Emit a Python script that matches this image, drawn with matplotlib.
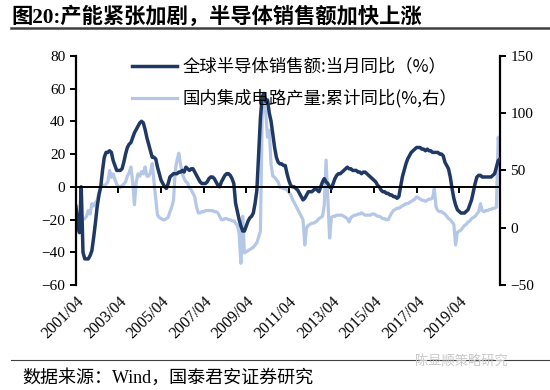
import numpy as np
import matplotlib
matplotlib.use('Agg')
import matplotlib.pyplot as plt

plt.rcParams['font.family'] = ['Liberation Serif', 'Noto Sans CJK SC', 'DejaVu Sans']

# monthly, 2001/04 .. 2021/03
global_sales = [
    -12, -22, -28, 0, -40, -44, -44, -44, -42, -39,
    -31, -22, -12, -5, 0, 10, 18, 21, 21, 22,
    21, 16, 13, 10, 10, 10, 11, 15, 20, 24,
    26, 27, 30, 33, 35, 37, 39, 40, 39, 35,
    30, 26, 22, 18, 18, 17, 12, 8, 4, 2,
    0, -1, 2, 6, 7, 8, 8, 8, 9, 9,
    10, 9, 12, 11, 10, 11, 11, 9, 7, 5,
    3, 2, 2, 2, 3, 5, 6, 6, 5, 3,
    1, 0, 3, 5, 7, 8, 8, 7, 5, 2,
    -10, -15, -20, -24, -27, -27, -24, -21, -19, -18,
    -16, -10, -2, 20, 42, 55, 57, 52, 53, 45,
    40, 32, 24, 18, 15, 14, 14, 13, 13, 8,
    4, 1, 0, 0, -1, -2, -4, -6, -8, -7,
    -5, -3, -3, -3, -2, -1, -2, -3, 0, 3,
    5, 3, 2, 0, -1, 2, 5, 7, 8, 8,
    9, 10, 11, 12, 11, 11, 10, 10, 10, 9,
    9, 8, 9, 9, 8, 7, 6, 5, 4, 3,
    1, 0, -2, -3, -3, -4, -4, -5, -5, -6,
    -6, -7, -6, 0, 6, 10, 14, 17, 19, 21,
    22, 23, 24, 24, 24, 23, 23, 22, 23, 22,
    22, 21, 21, 21, 21, 20, 20, 19, 15, 13,
    11, 6, -1, -7, -11, -14, -15, -16, -16, -16,
    -15, -14, -11, -8, -3, 2, 6, 7, 7, 6,
    6, 6, 6, 6, 6, 7, 8, 12, 16, 17,
]

china_ic = [
    10, 7, 5, 6, 7, 8, 10, 15, 12, 21,
    19, 22, 24, 31, 35, 37, 37, 38, 40, 50,
    44, 47, 42, 38, 36, 35, 37, 38, 40, 45,
    48, 53, 40, 20, 40, 47, 45, 49, 47, 53,
    45, 45, 48, 56, 40, 25, 11, 9, 8, 7,
    7, 8, 9, 14, 18, 24, 50, 59, 65, 55,
    47, 43, 40, 39, 35, 33, 30, 27, 18, 13,
    13, 14, 14, 15, 15, 15, 15, 15, 14, 14,
    13, 10, 7, 7, 8, 8, 7, 7, 6, 6,
    4, 2, -5, -31, 10, -22, -21, -20, -19, -18,
    -17, -15, -13, -8, -3, 100, 111, 100, 79, 85,
    55, 45, 44, 42, 40, 35, 35, 34, 34, 33,
    31, 29, 25, 22, 19, 16, 13, 10, 7, -15,
    0, 2, 3, 4, 4, 5, 6, 8, 9, 10,
    20, 59, 25, -9, 9, 10, 10, 11, 11, 11,
    11, 10, 9, 8, 5, 9, 10, 11, 11, 12,
    12, 13, 12, 11, 11, 11, 11, 12, 12, 11,
    10, 10, 9, 8, 8, 7, 7, 10, 13, 15,
    16, 17, 17, 18, 19, 20, 21, 21, 22, 23,
    24, 25, 27, 26, 25, 24, 24, 23, 24, 25,
    25, 26, 34, 18, 15, 14, 14, 13, 12, 10,
    8, 7, 5, 3, -15, -4, -3, -2, 0, 2,
    3, 5, 6, 8, 9, 10, 12, 14, 21, 15,
    14, 15, 15, 16, 16, 17, 17, 18, 79, 62,
]

tick_labels = ['2001/04', '2003/04', '2005/04', '2007/04', '2009/04',
               '2011/04', '2013/04', '2015/04', '2017/04', '2019/04']

dark = '#1f3864'
light = '#b4c7e7'

months = np.arange(len(global_sales))

fig = plt.figure(figsize=(5.5, 3.9), dpi=100)
ax = fig.add_axes([0.138, 0.269, 0.771, 0.588])
ax2 = ax.twinx()

l2, = ax2.plot(months, china_ic, color=light, lw=2.3, label='国内集成电路产量:累计同比(%,右）')
l1, = ax.plot(months, global_sales, color=dark, lw=2.5, label='全球半导体销售额:当月同比（%）')
ax.set_zorder(ax2.get_zorder() + 1)
ax.patch.set_visible(False)

ax.set_xlim(0, len(global_sales) - 1)
ax.set_ylim(-60, 80)
ax.set_yticks(range(-60, 81, 20))
ax2.set_ylim(-50, 150)
ax2.set_yticks(range(-50, 151, 50))

for a in (ax, ax2):
    a.spines['top'].set_visible(False)
ax.spines['right'].set_visible(False)
ax2.spines['bottom'].set_visible(False)
ax2.spines['left'].set_visible(False)
ax.spines['left'].set_linewidth(1.6)
ax2.spines['right'].set_linewidth(1.6)
ax.spines['bottom'].set_position(('data', 0))
ax.spines['bottom'].set_linewidth(1.4)

xt = np.arange(0, len(global_sales), 24)
ax.set_xticks(xt)
ax.tick_params(axis='x', direction='out', length=4, width=1.4, labelbottom=False)
ax.tick_params(axis='y', direction='out', length=4, width=1.4, labelsize=11)
ax2.tick_params(axis='y', direction='out', length=4, width=1.4, labelsize=11)

sec = ax.secondary_xaxis(0)
sec.spines['bottom'].set_visible(False)
sec.set_xticks(xt)
sec.set_xticklabels(tick_labels, rotation=45, ha='right', rotation_mode='anchor', fontsize=11.5)
sec.tick_params(length=0, pad=6)

leg = ax.legend(handles=[l1, l2], loc='upper left', bbox_to_anchor=(0.095, 1.06),
                frameon=False, handlelength=2.6, handletextpad=0.3,
                labelspacing=0.78, prop={'family': ['Noto Sans CJK SC'], 'size': 12.5})

fig.text(0.02, 0.955, '图20:产能紧张加剧，半导体销售额加快上涨', fontsize=15.3, fontweight='bold',
         va='center', ha='left')
fig.add_artist(plt.Line2D([0.02, 1.0], [0.927, 0.927], color='#404040', lw=1.8))
fig.add_artist(plt.Line2D([0.02, 1.0], [0.077, 0.077], color='#404040', lw=0.8))
fig.text(0.04, 0.03, '数据来源：Wind，国泰君安证券研究', fontsize=13, va='center', ha='left',
         family=['Liberation Serif', 'Noto Sans CJK SC'])
fig.text(0.755, 0.072, '陈显顺策略研究', fontsize=9.5, va='center', ha='left', color='#c8c8c8',
         family=['Noto Sans CJK SC'])

fig.savefig('out.png', dpi=100)
